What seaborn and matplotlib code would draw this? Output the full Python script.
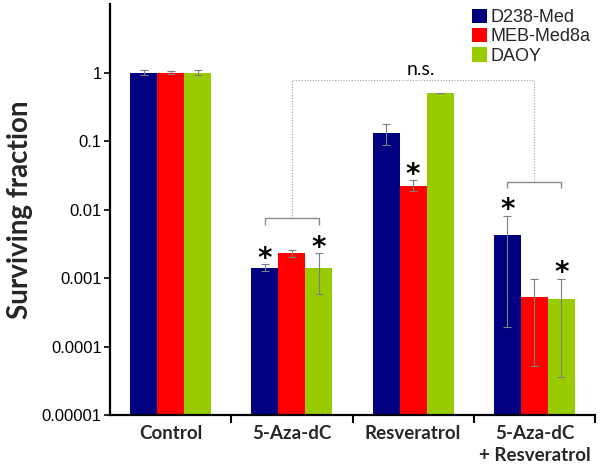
import numpy as np
import pandas as pd
import matplotlib
matplotlib.use("Agg")
import matplotlib.pyplot as plt
from matplotlib.patches import Patch
import seaborn as sns

# ---------------- data ----------------
treatments = ["Control", "5-Aza-dC", "Resveratrol", "5-Aza-dC\n+ Resveratrol"]
cell_lines = ["D238-Med", "MEB-Med8a", "DAOY"]
colors = ["#000080", "#FF0000", "#99CC00"]

d238_vals = [1.0, 0.0014, 0.130, 0.0042]
meb_vals = [1.0, 0.0023, 0.022, 0.00053]
daoy_vals = [1.0, 0.0014, 0.50, 0.00050]

d238_hi = [1.09, 0.00158, 0.18, 0.0080]
meb_hi = [1.05, 0.0026, 0.0267, 0.00098]
daoy_hi = [1.10, 0.0023, 0.505, 0.00098]

d238_lo = [0.92, 0.00125, 0.086, 0.00019]
meb_lo = [0.95, 0.0020, 0.0186, 0.000052]
daoy_lo = [0.92, 0.00059, 0.495, 0.0000355]

# significance asterisks: (treatment index, cell line index)
stars = [(1, 0), (1, 2), (2, 1), (3, 0), (3, 2)]

ytick_vals = [1e-5, 1e-4, 1e-3, 1e-2, 1e-1, 1]
ytick_labels = ["0.00001", "0.0001", "0.001", "0.01", "0.1", "1"]

# bracket levels (data values)
bracket_aza = (0.00745, 0.0059)
bracket_combo = (0.0252, 0.0204)
ns_level = 0.78

# ---------------- build frame ----------------
vals = [d238_vals, meb_vals, daoy_vals]
his = [d238_hi, meb_hi, daoy_hi]
los = [d238_lo, meb_lo, daoy_lo]
rows = []
for li, line in enumerate(cell_lines):
    for ti, t in enumerate(treatments):
        rows.append({"treatment": t, "line": line, "value": vals[li][ti]})
df = pd.DataFrame(rows)

sns.set_style("white")
plt.rcParams["font.family"] = ["Liberation Sans", "DejaVu Sans"]

fig = plt.figure(figsize=(6, 4.65), dpi=100)
ax = fig.add_axes([110 / 600, 1 - 415 / 465, 485 / 600, 411 / 465])

sns.barplot(data=df, x="treatment", y="value", hue="line",
            order=treatments, hue_order=cell_lines, palette=colors,
            errorbar=None, width=0.67, saturation=1,
            linewidth=0, ax=ax, legend=False)
ax.set_yscale("log")
ax.set_ylim(1e-5, 10)
ax.set_xlim(-0.5, 3.5)

# error bars from bar geometry
bar_pos = {}
bar_conts = list(ax.containers)
for li, cont in enumerate(bar_conts):
    for ti, p in enumerate(cont.patches):
        xc = p.get_x() + p.get_width() / 2
        bar_pos[(ti, li)] = xc
for (ti, li), xc in bar_pos.items():
    yv = vals[li][ti]
    ax.errorbar(xc, yv, yerr=[[yv - los[li][ti]], [his[li][ti] - yv]],
                fmt="none", ecolor="#7f7f7f", elinewidth=0.8,
                capsize=3, capthick=0.8, zorder=5)

# asterisks
for ti, li in stars:
    ax.annotate("*", xy=(bar_pos[(ti, li)], his[li][ti]),
                xytext=(0, -6), textcoords="offset points",
                ha="center", va="bottom", fontsize=20, fontweight="bold",
                family="DejaVu Sans", color="black")

# brackets
gray = "#8c8c8c"
for ti, (yb, yt) in [(1, bracket_aza), (3, bracket_combo)]:
    x0 = bar_pos[(ti, 0)]
    x1 = bar_pos[(ti, 2)]
    ax.plot([x0, x0, x1, x1], [yt, yb, yb, yt], color=gray, lw=1.0,
            solid_capstyle="butt")
xa = ax.get_xticks()[1]
xc_ = ax.get_xticks()[3]
ax.plot([xa, xa, xc_, xc_], [bracket_aza[0], ns_level, ns_level, bracket_combo[0]],
        color="#a0a0a0", lw=0.8, ls=(0, (1, 1.5)))
ax.text((xa + xc_) / 2 + 0.06, ns_level * 1.08, "n.s.", ha="center", va="bottom",
        fontsize=14, family="Lato", color="black")

# axes styling
for s in ["top", "right"]:
    ax.spines[s].set_visible(False)
for s in ["left", "bottom"]:
    ax.spines[s].set_linewidth(1.6)
    ax.spines[s].set_color("black")

ax.set_yticks(ytick_vals)
ax.set_yticklabels(ytick_labels, fontsize=12)
ax.yaxis.set_minor_locator(matplotlib.ticker.NullLocator())
ax.tick_params(axis="y", which="major", left=True, length=4, width=1.2, pad=2,
               direction="out", colors="black")

ax.set_xticks(range(len(treatments)))
ax.set_xticklabels(treatments, fontsize=13.5, fontweight="bold", family="Lato",
                   linespacing=1.4)
ax.tick_params(axis="x", which="major", length=0, pad=7)
ax.set_xticks([0.5, 1.5, 2.5, 3.5], minor=True)
ax.tick_params(axis="x", which="minor", bottom=True, length=6, width=1.5,
               direction="out", colors="black")
ax.set_xlabel("")

ax.set_ylabel("Surviving fraction", fontsize=20, fontweight="bold", family="Lato")
ax.yaxis.set_label_coords(-0.158, 0.5)

handles = [Patch(facecolor=c, edgecolor="none") for c in colors]
fig.legend(handles, cell_lines, loc="upper left",
           bbox_to_anchor=(459 / 600, 1 + 4 / 465), frameon=False,
           fontsize=13, handlelength=0.85, handleheight=0.85,
           handletextpad=0.2, labelspacing=0.1, borderpad=0.2)

fig.savefig("out.png", dpi=100)
